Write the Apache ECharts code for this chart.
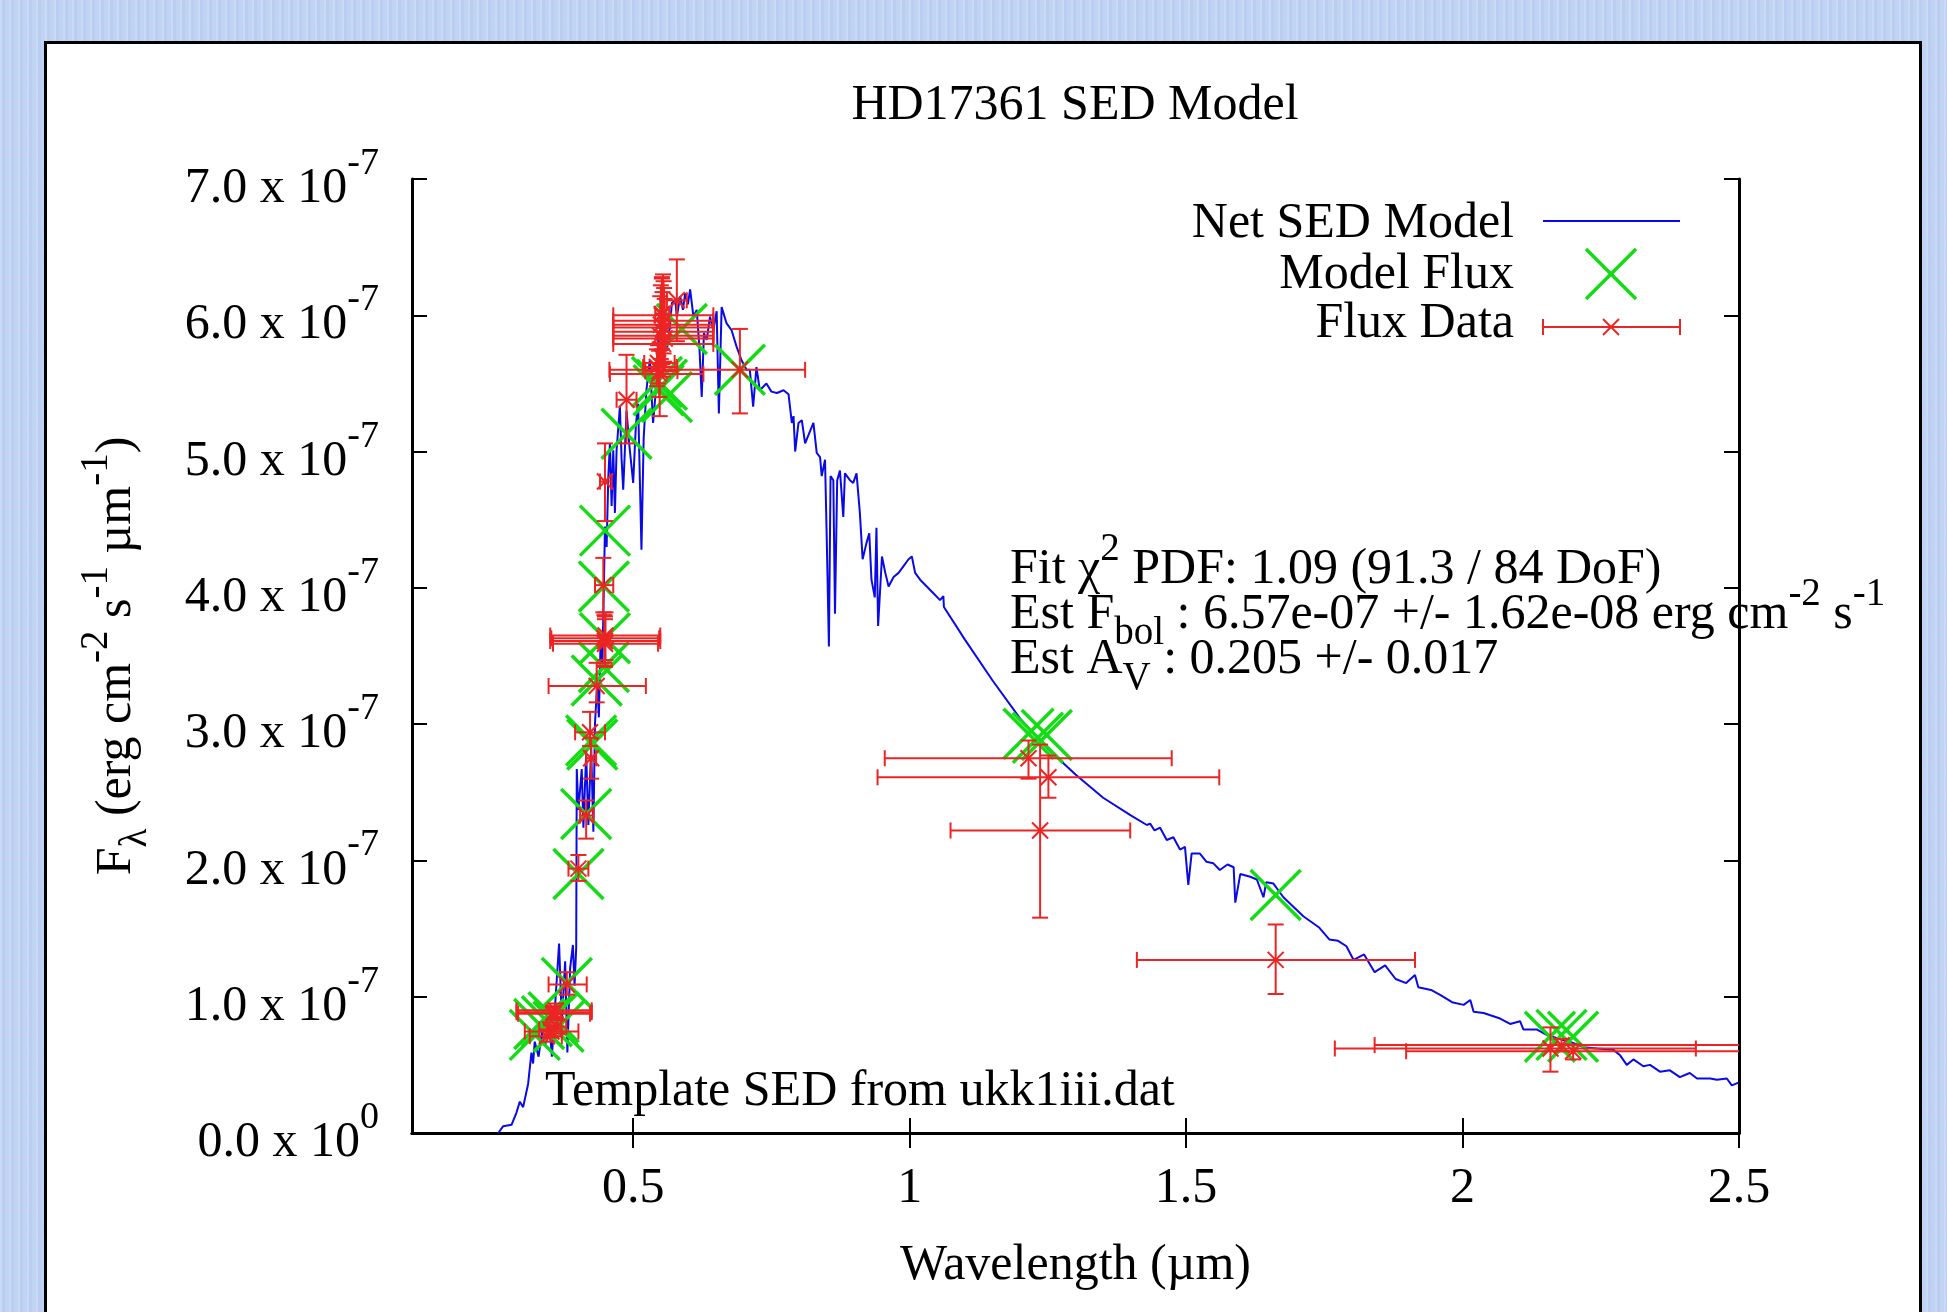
<!DOCTYPE html>
<html><head><meta charset="utf-8">
<script src="https://cdn.jsdelivr.net/npm/echarts@6/dist/echarts.min.js"></script>
<style>
html,body{margin:0;padding:0;width:1947px;height:1312px;overflow:hidden;}
body{background-color:#bed4f3;
background-image:repeating-linear-gradient(90deg, rgba(255,255,255,0.16) 0 2px, rgba(170,160,230,0.14) 2px 5px, rgba(255,255,255,0) 5px 9px),
repeating-linear-gradient(0deg, rgba(235,195,240,0.12) 0 3px, rgba(255,255,255,0) 3px 11px);}
#panel{position:absolute;left:44px;top:41px;width:1878px;height:1400px;box-sizing:border-box;border:3px solid #000;background:#fff;}
#chart{position:absolute;left:0;top:0;width:1947px;height:1312px;}
</style></head><body><div id="panel"></div><div id="chart"></div>
<script>
// ---- data (flux in units of 1e-7 erg cm^-2 s^-1 um^-1, wavelength in um) ----
const specWave = [0.256,0.265,0.280,0.289,0.295,0.301,0.310,0.316,0.319,0.322,0.329,0.335,0.341,0.347,0.353,0.359,0.366,0.371,0.377,0.381,0.386,0.391,0.394,0.397,0.398,0.401,0.403,0.407,0.410,0.415,0.419,0.424,0.428,0.431,0.435,0.438,0.441,0.444,0.447,0.449,0.452,0.455,0.458,0.461,0.464,0.467,0.470,0.476,0.479,0.482,0.488,0.493,0.500,0.505,0.509,0.515,0.519,0.524,0.530,0.536,0.540,0.546,0.552,0.561,0.567,0.570,0.576,0.579,0.585,0.590,0.594,0.599,0.603,0.609,0.615,0.620,0.624,0.628,0.633,0.639,0.645,0.651,0.655,0.660,0.669,0.678,0.687,0.696,0.705,0.711,0.717,0.723,0.729,0.741,0.750,0.760,0.772,0.781,0.787,0.790,0.793,0.799,0.805,0.811,0.817,0.826,0.832,0.838,0.841,0.847,0.850,0.854,0.857,0.862,0.865,0.869,0.874,0.880,0.883,0.892,0.898,0.904,0.910,0.915,0.922,0.927,0.931,0.937,0.940,0.943,0.950,0.956,0.962,0.971,0.980,0.989,0.998,1.004,1.010,1.019,1.031,1.043,1.055,1.061,1.062,1.100,1.150,1.200,1.250,1.300,1.350,1.400,1.429,1.435,1.443,1.453,1.465,1.477,1.489,1.498,1.504,1.510,1.525,1.537,1.549,1.561,1.575,1.586,1.589,1.598,1.616,1.628,1.640,1.645,1.658,1.676,1.694,1.712,1.740,1.759,1.775,1.790,1.803,1.822,1.841,1.860,1.879,1.898,1.914,1.920,1.943,1.961,1.981,2.002,2.014,2.020,2.038,2.068,2.086,2.104,2.110,2.134,2.152,2.176,2.200,2.219,2.243,2.273,2.285,2.297,2.309,2.327,2.339,2.357,2.375,2.393,2.411,2.424,2.448,2.460,2.478,2.487,2.499];
const specFlux = [0.00,0.05,0.06,0.15,0.23,0.19,0.36,0.59,0.51,0.67,0.56,0.74,0.64,0.87,0.56,0.95,1.39,0.82,1.26,0.59,1.21,1.38,1.08,1.36,2.67,2.37,2.47,2.67,2.24,2.78,2.26,2.83,2.21,3.01,3.30,3.05,3.60,3.40,4.00,4.45,4.30,4.81,5.06,4.60,5.01,4.55,5.01,5.33,4.95,4.72,5.30,5.05,4.77,5.20,5.35,4.28,5.10,5.45,5.67,5.21,5.40,5.87,5.92,5.74,5.94,6.09,6.11,5.99,6.14,6.04,6.16,6.08,6.19,5.99,6.04,5.75,5.40,5.87,5.82,5.99,5.89,6.03,5.28,6.06,5.94,5.89,5.77,5.67,5.60,5.60,5.33,5.62,5.45,5.50,5.44,5.43,5.45,5.42,5.21,5.26,5.00,5.21,5.23,5.06,5.12,5.21,4.99,4.96,4.82,4.94,4.38,3.57,4.82,4.79,3.81,4.79,4.86,4.52,4.84,4.79,4.77,4.84,4.55,4.21,4.33,4.40,4.06,3.93,4.44,3.72,4.23,4.11,4.01,4.08,4.11,4.16,4.21,4.23,4.11,4.06,4.01,3.96,3.91,3.94,3.86,3.62,3.32,3.04,2.82,2.63,2.46,2.33,2.26,2.27,2.22,2.24,2.15,2.17,2.08,2.10,1.82,2.05,2.05,1.99,1.98,1.93,1.97,1.95,1.69,1.90,1.88,1.86,1.73,1.84,1.83,1.73,1.66,1.59,1.51,1.42,1.41,1.37,1.27,1.31,1.18,1.23,1.13,1.10,1.16,1.07,1.05,1.01,0.96,0.94,0.976,0.89,0.88,0.84,0.80,0.82,0.76,0.76,0.72,0.69,0.66,0.63,0.62,0.61,0.57,0.50,0.54,0.49,0.50,0.45,0.46,0.41,0.44,0.40,0.40,0.39,0.40,0.35,0.37];

const modelWave = [0.322,0.330,0.344,0.356,0.365,0.380,0.401,0.415,0.424,0.426,0.434,0.447,0.449,0.447,0.449,0.488,0.543,0.546,0.552,0.561,0.588,0.693,1.215,1.232,1.248,1.662,2.158,2.179,2.200];
const modelFlux = [0.72,0.80,0.82,0.85,0.78,1.10,1.90,2.34,2.88,2.85,3.32,3.42,3.63,4.01,4.42,5.13,5.51,5.45,5.49,5.40,5.90,5.60,2.93,2.90,2.92,1.746,0.707,0.72,0.707];

const dataWave   = [0.357,0.360,0.355,0.352,0.344,0.350,0.362,0.380,0.401,0.415,0.424,0.422,0.434,0.449,0.448,0.449,0.450,0.446,0.449,0.488,0.547,0.543,0.545,0.548,0.693,0.579,0.552,0.552,0.555,0.550,0.556,0.553,0.549,0.557,0.554,1.215,1.251,1.236,1.662,2.159,2.179,2.200];
const dataFlux   = [0.886,0.900,0.875,0.745,0.710,0.760,0.780,1.09,1.94,2.33,2.75,2.94,3.28,3.61,3.63,3.59,3.65,4.02,4.78,5.38,5.57,5.62,5.65,5.59,5.60,6.11,6.01,6.00,5.96,5.93,5.91,5.88,5.85,5.83,5.79,2.75,2.61,2.22,1.27,0.62,0.645,0.600];
const dataWaveLo = [0.289,0.289,0.292,0.304,0.313,0.330,0.345,0.347,0.383,0.404,0.415,0.395,0.347,0.350,0.352,0.355,0.350,0.431,0.440,0.470,0.458,0.518,0.520,0.522,0.457,0.561,0.540,0.464,0.464,0.464,0.464,0.464,0.464,0.464,0.464,0.955,0.942,1.074,1.411,1.769,1.841,1.898];
const dataWaveHi = [0.425,0.425,0.422,0.401,0.371,0.370,0.379,0.416,0.419,0.428,0.433,0.449,0.523,0.549,0.547,0.545,0.549,0.464,0.461,0.506,0.627,0.579,0.575,0.580,0.811,0.597,0.565,0.645,0.645,0.645,0.645,0.645,0.645,0.645,0.645,1.474,1.560,1.399,1.914,2.422,2.550,2.550];
const dataFluxLo = [0.84,0.85,0.83,0.70,0.67,0.71,0.73,1.015,1.85,2.16,2.60,2.84,3.16,3.43,3.45,3.42,3.47,3.82,4.49,5.06,5.40,5.48,5.50,5.26,5.28,5.81,5.75,5.75,5.72,5.68,5.66,5.64,5.62,5.60,5.55,2.60,2.46,1.58,1.02,0.45,0.60,0.54];
const dataFluxHi = [0.93,0.95,0.92,0.79,0.75,0.81,0.83,1.18,2.04,2.44,2.90,3.09,3.45,3.79,3.80,3.77,3.82,4.22,5.06,5.71,5.74,5.75,5.78,5.80,5.90,6.41,6.27,6.28,6.25,6.22,6.20,6.17,6.14,6.12,6.30,2.88,2.77,2.85,1.53,0.775,0.69,0.65];

const xTickValues = [0.5, 1, 1.5, 2, 2.5];
const xTickLabels = ['0.5', '1', '1.5', '2', '2.5'];
const yTickMantissa = ['0.0','1.0','2.0','3.0','4.0','5.0','6.0','7.0'];
const yTickExp = ['0','-7','-7','-7','-7','-7','-7','-7'];

// ---- styling ----
const FONT = '"Liberation Serif", "Times New Roman", serif';
const BLUE = '#0a0ae6', RED = '#ec2424', GREEN = '#14dc14';
const NS = 50, SS = 39, MID = 0.3375;
const mctx = document.createElement('canvas').getContext('2d');
function tw(t, size) { mctx.font = size + 'px ' + FONT; return mctx.measureText(t).width; }
function run(parts) {
  let x = 0; const children = [];
  parts.forEach(p => {
    const kind = p[1] || 'n';
    const size = kind === 'n' ? NS : SS;
    const dy = kind === 'sup' ? -24 : (kind === 'sub' ? 15 : 0);
    children.push({type: 'text', x: x, y: dy - MID * size, z: 50,
      style: {text: p[0], font: size + 'px ' + FONT, fill: '#000', align: 'left', verticalAlign: 'middle', textAlign: 'left', textVerticalAlign: 'middle'}});
    x += tw(p[0], size);
  });
  return {children, width: x};
}
function textGroup(parts, x, baseline, alignRight) {
  const r = run(parts);
  return {type: 'group', x: alignRight ? x - r.width : x, y: baseline, z: 50, children: r.children};
}

const graphics = [];
// annotations
graphics.push(textGroup([['Fit χ'], ['2', 'sup'], [' PDF: 1.09 (91.3 / 84 DoF)']], 1010, 587));
graphics.push(textGroup([['Est F'], ['bol', 'sub'], [' : 6.57e-07 +/- 1.62e-08 erg cm'], ['-2', 'sup'], [' s'], ['-1', 'sup']], 1010, 632));
graphics.push(textGroup([['Est A'], ['V', 'sub'], [' : 0.205 +/- 0.017']], 1010, 677));
graphics.push(textGroup([['Template SED from ukk1iii.dat']], 545, 1109));
// y axis title (rotated)
(function () {
  const r = run([['F'], ['λ', 'sub'], [' (erg cm'], ['-2', 'sup'], [' s'], ['-1', 'sup'], [' µm'], ['-1', 'sup'], [')']]);
  graphics.push({type: 'group', x: 134, y: 656 + r.width / 2, rotation: Math.PI / 2, z: 50, children: r.children});
})();
// legend
graphics.push(textGroup([['Net SED Model']], 1514, 241, true));
graphics.push(textGroup([['Model Flux']], 1514, 292, true));
graphics.push(textGroup([['Flux Data']], 1514, 341, true));
function gline(x1, y1, x2, y2, c, w) { return {type: 'line', z: 50, shape: {x1, y1, x2, y2}, style: {stroke: c, lineWidth: w}}; }
graphics.push(gline(1543, 221, 1680, 221, BLUE, 2));
graphics.push(gline(1586, 249, 1636, 299, GREEN, 3.5));
graphics.push(gline(1586, 299, 1636, 249, GREEN, 3.5));
graphics.push(gline(1543, 327, 1680, 327, RED, 2));
graphics.push(gline(1543, 319, 1543, 335, RED, 2));
graphics.push(gline(1680, 319, 1680, 335, RED, 2));
graphics.push(gline(1603, 319, 1619, 335, RED, 2));
graphics.push(gline(1603, 335, 1619, 319, RED, 2));

const titleText = 'HD17361 SED Model';
const titleW = tw(titleText, NS);

const axisLineStyle = {color: '#000', width: 3};
const tickStyle = {color: '#000', width: 2};

const specData = specWave.map((w, i) => [w, specFlux[i]]);
const modelData = modelWave.map((w, i) => [w, modelFlux[i]]);
const fluxData = dataWave.map((w, i) => [w, dataFlux[i], dataWaveLo[i], dataWaveHi[i], dataFluxLo[i], dataFluxHi[i]]);

function seg(x1, y1, x2, y2, c, w) { return {type: 'line', shape: {x1, y1, x2, y2}, style: {stroke: c, lineWidth: w}}; }

const option = {
  animation: false,
  title: {text: titleText, left: 1075 - titleW / 2, top: 81, padding: 0,
    textStyle: {fontSize: NS, fontFamily: FONT, fontWeight: 'normal', color: '#000'}},
  grid: {left: 412, top: 179, width: 1327, height: 954, show: false},
  xAxis: [
    {type: 'value', min: 0.1, max: 2.5, position: 'bottom',
      name: 'Wavelength (µm)', nameLocation: 'middle', nameGap: 108,
      nameTextStyle: {fontSize: NS, fontFamily: FONT, color: '#000'},
      axisLine: {show: true, lineStyle: axisLineStyle},
      axisTick: {show: true, inside: true, length: 15, lineStyle: tickStyle, customValues: xTickValues},
      axisLabel: {show: true, margin: 31, fontSize: NS, fontFamily: FONT, color: '#000', customValues: xTickValues,
        formatter: v => { const i = xTickValues.findIndex(t => Math.abs(t - v) < 1e-6); return i >= 0 ? xTickLabels[i] : ''; }},
      splitLine: {show: false}},
    {type: 'value', min: 0.1, max: 2.5, position: 'top',
      axisLine: {show: true, lineStyle: axisLineStyle},
      axisTick: {show: true, inside: true, length: 15, lineStyle: tickStyle, customValues: xTickValues},
      axisLabel: {show: false}, splitLine: {show: false}}
  ],
  yAxis: [
    {type: 'value', min: 0, max: 7, interval: 1, position: 'left',
      axisLine: {show: true, lineStyle: axisLineStyle},
      axisTick: {show: true, inside: true, length: 15, lineStyle: tickStyle},
      axisLabel: {show: true, margin: 33, padding: [20, 0, 0, 0],
        formatter: v => { const i = Math.round(v); return '{m|' + yTickMantissa[i] + ' x 10}{s|' + yTickExp[i] + '}'; },
        rich: {
          m: {fontSize: NS, fontFamily: FONT, color: '#000', lineHeight: 50, verticalAlign: 'bottom'},
          s: {fontSize: 38, fontFamily: FONT, color: '#000', lineHeight: 38, padding: [0, 0, 31, 0], verticalAlign: 'bottom'}
        }},
      splitLine: {show: false}},
    {type: 'value', min: 0, max: 7, interval: 1, position: 'right',
      axisLine: {show: true, lineStyle: axisLineStyle},
      axisTick: {show: true, inside: true, length: 15, lineStyle: tickStyle},
      axisLabel: {show: false}, splitLine: {show: false}}
  ],
  series: [
    {name: 'Net SED Model', type: 'line', data: specData, showSymbol: false, symbol: 'none',
      lineStyle: {color: BLUE, width: 2}, clip: true, z: 2},
    {name: 'Model Flux', type: 'custom', data: modelData, clip: true, z: 3,
      encode: {x: 0, y: 1},
      renderItem: (params, api) => {
        const c = api.coord([api.value(0), api.value(1)]); const h = 25;
        return {type: 'group', children: [
          seg(c[0] - h, c[1] - h, c[0] + h, c[1] + h, GREEN, 3.5),
          seg(c[0] - h, c[1] + h, c[0] + h, c[1] - h, GREEN, 3.5)]};
      }},
    {name: 'Flux Data', type: 'custom', data: fluxData, clip: true, z: 4,
      encode: {x: [0, 2, 3], y: [1, 4, 5]},
      renderItem: (params, api) => {
        const x = api.value(0), y = api.value(1);
        const c = api.coord([x, y]);
        const pl = api.coord([api.value(2), y]), ph = api.coord([api.value(3), y]);
        const yl = api.coord([x, api.value(4)]), yh = api.coord([x, api.value(5)]);
        const cap = 8, m = 8, w = 2;
        return {type: 'group', children: [
          seg(pl[0], c[1], ph[0], c[1], RED, w),
          seg(pl[0], c[1] - cap, pl[0], c[1] + cap, RED, w),
          seg(ph[0], c[1] - cap, ph[0], c[1] + cap, RED, w),
          seg(c[0], yl[1], c[0], yh[1], RED, w),
          seg(c[0] - cap, yl[1], c[0] + cap, yl[1], RED, w),
          seg(c[0] - cap, yh[1], c[0] + cap, yh[1], RED, w),
          seg(c[0] - m, c[1] - m, c[0] + m, c[1] + m, RED, w),
          seg(c[0] - m, c[1] + m, c[0] + m, c[1] - m, RED, w)]};
      }}
  ],
  graphic: {elements: graphics}
};
const chart = echarts.init(document.getElementById('chart'), null, {renderer: 'canvas'});
chart.setOption(option);
</script></body></html>
